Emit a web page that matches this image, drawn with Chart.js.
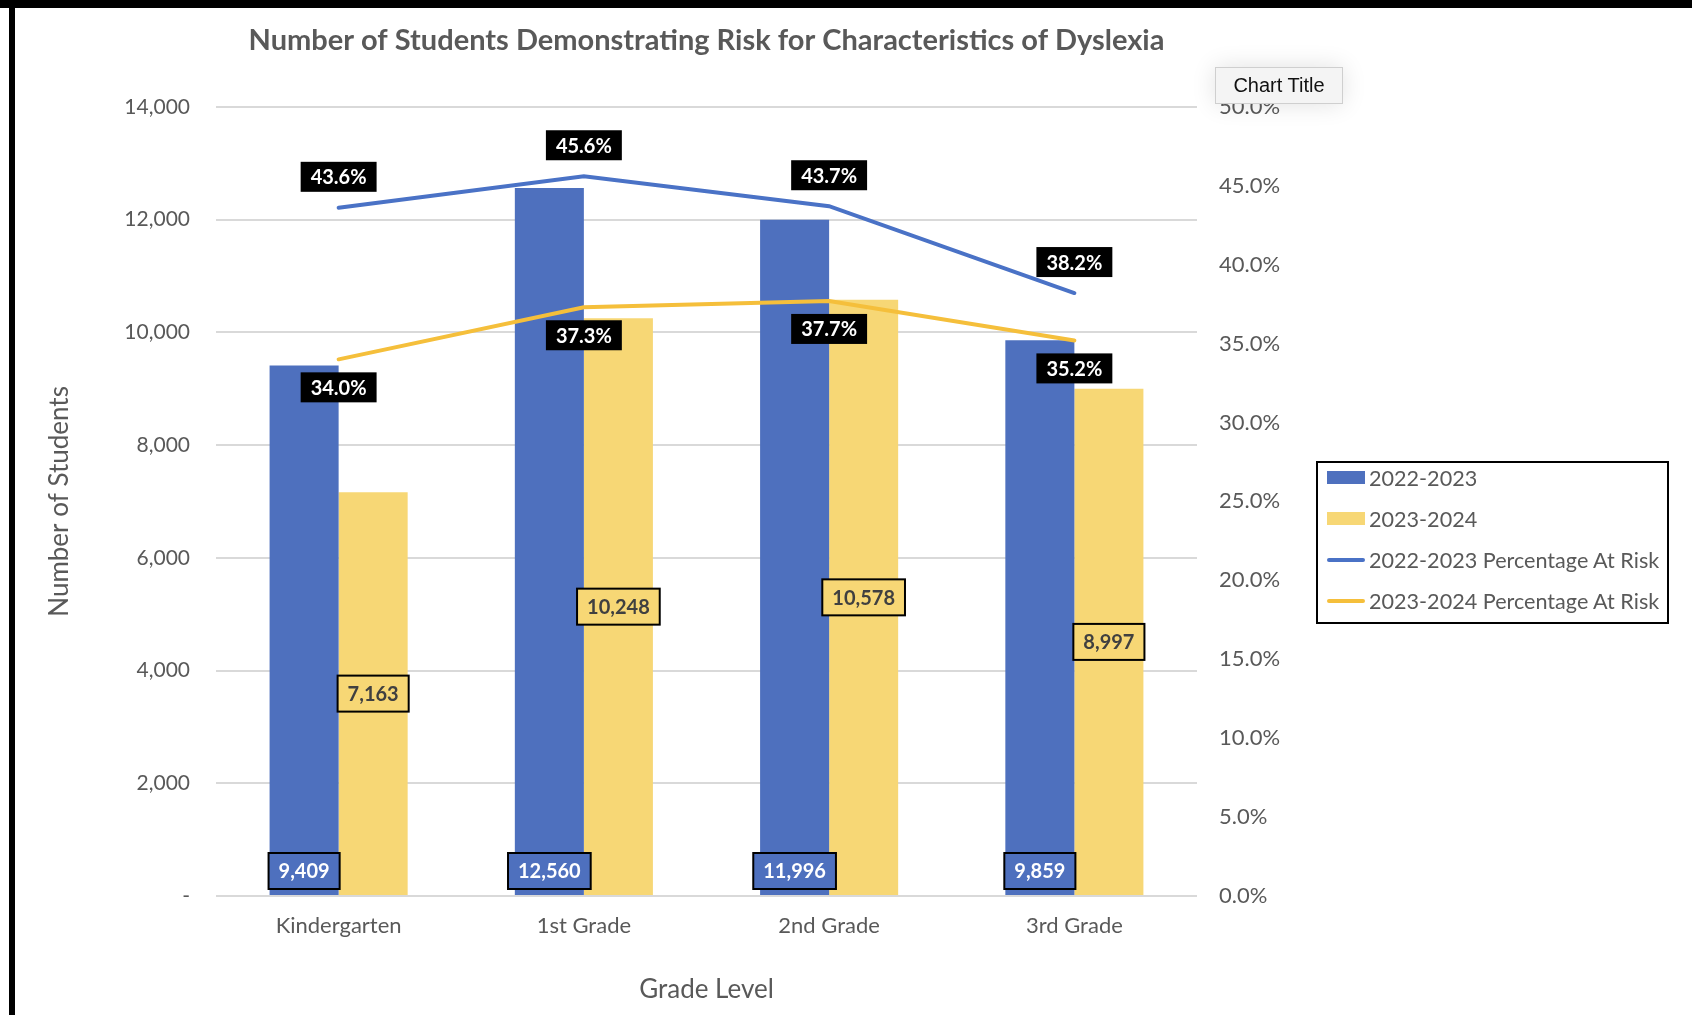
<!DOCTYPE html>
<html>
<head>
<meta charset="utf-8">
<script src="https://cdn.jsdelivr.net/npm/chart.js@4"></script>
<style>
  html, body { margin: 0; padding: 0; background: #fff; }
  #wrap { position: relative; width: 1692px; height: 1015px; overflow: hidden; }
  #frameTop { position: absolute; left: 0; top: 0; width: 1692px; height: 8px; background: #000; }
  #frameLeft { position: absolute; left: 9px; top: 0; width: 6px; height: 1015px; background: #000; }
  #legend {
    position: absolute; left: 1316px; top: 461px; width: 349px; height: 159px;
    border: 2px solid #000; background: #fff; font-family: Lato, "Open Sans", sans-serif;
    font-size: 21.6px; color: #595959;
  }
  .row { position: absolute; left: 0; height: 41px; display: flex; align-items: center; }
  .mark { width: 38px; margin-left: 9px; margin-right: 4px; }
  #chartTitleTip {
    position: absolute; left: 1215px; top: 67px; width: 126px; height: 35px;
    background: #f4f4f4; border: 1px solid #cfcfcf; box-shadow: 0 0 24px rgba(0,0,0,0.12);
    font-family: "Liberation Sans", Arial, sans-serif; font-size: 20px; color: #111;
    display: flex; align-items: center; justify-content: center;
  }
</style>
</head>
<body>
<div id="wrap">
  <canvas id="chart" width="1692" height="1015"></canvas>
  <div id="frameTop"></div>
  <div id="frameLeft"></div>
  <div id="legend"></div>
  <div id="chartTitleTip">Chart Title</div>
</div>
<script>
// Data
const grades = ['Kindergarten', '1st Grade', '2nd Grade', '3rd Grade'];
const students2223 = [9409, 12560, 11996, 9859];
const students2324 = [7163, 10248, 10578, 8997];
const pctRisk2223 = [43.6, 45.6, 43.7, 38.2];
const pctRisk2324 = [34.0, 37.3, 37.7, 35.2];

const FONT = 'Lato, "Open Sans", sans-serif';
const GREY = '#595959';

// draws the boxed data labels like Excel does
const boxLabels = {
  id: 'boxLabels',
  afterDatasetsDraw(chart) {
    const ctx = chart.ctx;
    ctx.save();
    ctx.font = 'bold 20px ' + FONT;
    ctx.textAlign = 'center';
    ctx.textBaseline = 'middle';
    chart.data.datasets.forEach((ds, i) => {
      const meta = chart.getDatasetMeta(i);
      meta.data.forEach((el, j) => {
        const v = ds.data[j];
        let text, cy, h, fill, color, stroke;
        if (ds.type === 'bar') {
          text = v.toLocaleString('en-US');
          h = 36;
          fill = ds.backgroundColor;
          stroke = '#000';
          if (i === 0) { cy = el.base - 24; color = '#fff'; }
          else { cy = (el.y + el.base) / 2; color = '#404040'; }
        } else {
          text = v.toFixed(1) + '%';
          h = 30;
          fill = '#000';
          stroke = null;
          color = '#fff';
          cy = i === 2 ? el.y - 31 : el.y + 28;
        }
        const w = ctx.measureText(text).width + 20;
        ctx.fillStyle = fill;
        ctx.fillRect(el.x - w / 2, cy - h / 2, w, h);
        if (stroke) {
          ctx.lineWidth = 2;
          ctx.strokeStyle = stroke;
          ctx.strokeRect(el.x - w / 2, cy - h / 2, w, h);
        }
        ctx.fillStyle = color;
        ctx.fillText(text, el.x, cy + 1);
      });
    });
    ctx.restore();
  }
};

const chart = new Chart(document.getElementById('chart'), {
  data: {
    labels: grades,
    datasets: [
      { type: 'bar', label: '2022-2023', data: students2223, backgroundColor: '#4E70BE', yAxisID: 'y', order: 2 },
      { type: 'bar', label: '2023-2024', data: students2324, backgroundColor: '#F7D775', yAxisID: 'y', order: 2 },
      { type: 'line', label: '2022-2023 Percentage At Risk', data: pctRisk2223, borderColor: '#4A72C6', borderWidth: 4,
        pointRadius: 0, tension: 0, yAxisID: 'y1', order: 1, borderCapStyle: 'round' },
      { type: 'line', label: '2023-2024 Percentage At Risk', data: pctRisk2324, borderColor: '#F5BF3B', borderWidth: 4,
        pointRadius: 0, tension: 0, yAxisID: 'y1', order: 1, borderCapStyle: 'round' }
    ]
  },
  options: {
    responsive: false,
    animation: false,
    devicePixelRatio: 1,
    datasets: { bar: { categoryPercentage: 0.563, barPercentage: 1 } },
    layout: { padding: { left: 44, top: 12, right: 0, bottom: 0 } },
    plugins: {
      legend: { display: false },
      tooltip: { enabled: false },
      title: {
        display: true,
        fullSize: false,
        text: 'Number of Students Demonstrating Risk for Characteristics of Dyslexia',
        color: GREY,
        font: { family: FONT, size: 29, weight: 'bold' },
        padding: { top: 11, bottom: 49 }
      }
    },
    scales: {
      x: {
        grid: { display: false, drawTicks: false },
        border: { display: false },
        ticks: { color: GREY, font: { family: FONT, size: 22 }, padding: 17 },
        title: { display: true, text: 'Grade Level', color: GREY, font: { family: FONT, size: 26 }, padding: { bottom: 10 } },
        afterFit(s) { s.height = 119; }
      },
      y: {
        position: 'left',
        min: 0, max: 14000,
        ticks: {
          stepSize: 2000, color: GREY, font: { family: FONT, size: 21 }, padding: 26,
          callback: v => v === 0 ? '-' : v.toLocaleString('en-US')
        },
        grid: { color: '#D9D9D9', lineWidth: 2, drawTicks: false },
        border: { display: false },
        title: { display: true, text: 'Number of Students', color: GREY, font: { family: FONT, size: 26 }, padding: { top: 0 } },
        afterFit(s) { s.width = 172; }
      },
      y1: {
        position: 'right',
        min: 0, max: 50,
        ticks: {
          stepSize: 5, color: GREY, font: { family: FONT, size: 22 }, padding: 22,
          callback: v => v.toFixed(1) + '%'
        },
        grid: { display: false, drawTicks: false },
        border: { display: false },
        afterFit(s) { s.width = 495; }
      }
    }
  },
  plugins: [boxLabels]
});

// legend built from the datasets
const legend = document.getElementById('legend');
chart.data.datasets.forEach((ds, i) => {
  const row = document.createElement('div');
  row.className = 'row';
  row.style.top = (i * 41 - 6) + 'px';
  const mark = document.createElement('span');
  mark.className = 'mark';
  if (ds.type === 'bar') {
    mark.style.height = '13px';
    mark.style.background = ds.backgroundColor;
  } else {
    mark.style.height = '4px';
    mark.style.borderRadius = '2px';
    mark.style.background = ds.borderColor;
  }
  const txt = document.createElement('span');
  txt.textContent = ds.label;
  row.appendChild(mark);
  row.appendChild(txt);
  legend.appendChild(row);
});
</script>
</body>
</html>
